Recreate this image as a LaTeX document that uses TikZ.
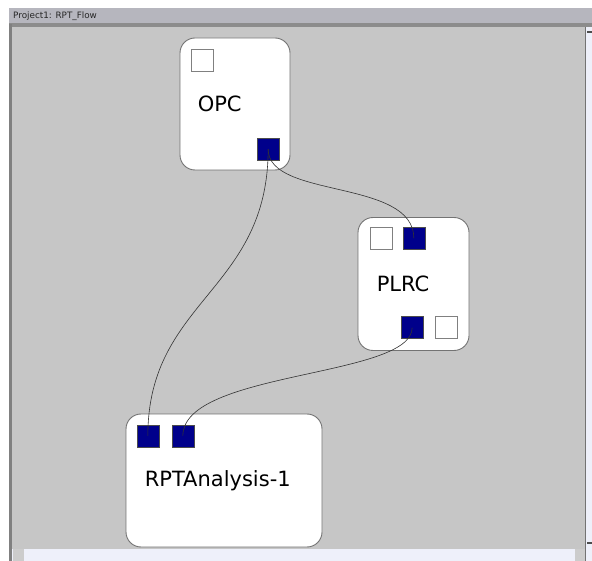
\documentclass[tikz,border=0pt]{standalone}
\usepackage{fontspec}
\setmainfont{DejaVu Sans}
\usetikzlibrary{positioning}
\definecolor{canvasgray}{HTML}{C6C6C6}
\definecolor{titlegray}{HTML}{B6B6BE}
\definecolor{barlight}{HTML}{EEF0FA}
\definecolor{portblue}{HTML}{00008B}
\tikzset{
compbox/.style={
  draw=black!55, fill=white, line width=0.9pt,
  rounded corners=15pt, inner sep=0pt
  },
portfull/.style={
  draw=black!70, fill=portblue, line width=0.6pt,
  minimum size=22pt, inner sep=0pt
  },
portempty/.style={
  draw=black!50, fill=white, line width=0.6pt,
  minimum size=22pt, inner sep=0pt
  },
boxtext/.style={
  inner sep=0pt, anchor=west, font=\fontsize{21}{24}\selectfont
  },
wire/.style={
  draw=black!80, line width=0.6pt
  }
}

\begin{document}
\begin{tikzpicture}[x=1pt,y=-1pt]
\useasboundingbox (0,0) rectangle (592,561);
% window frame
\fill[white] (0,0) rectangle (592,561);
\fill[titlegray] (9,8) rectangle (592,24);
\fill[black!45] (9,23) rectangle (592,27);
\fill[canvasgray] (12,27) rectangle (585,549);
\fill[black!50] (9,24) rectangle (12,561);
\fill[barlight] (12,549) rectangle (585,561);
\fill[black!20] (13,549) rectangle (24,561);
\fill[black!20] (575,549) rectangle (585,561);
\fill[barlight] (585,27) rectangle (592,561);
\fill[black!55] (585,27) rectangle (586,561);
\fill[black!70] (587,31) rectangle (592,33);
\fill[black!70] (587,542) rectangle (592,544);
\node[anchor=west, inner sep=0pt, font=\fontsize{8.8}{10}\selectfont, text=black!85]
  (title) at (13,16) {Project1: RPT\_Flow};

% components
\node[compbox, minimum width=110pt, minimum height=132pt] (opc) at (235,104) {};
\node[compbox, minimum width=111pt, minimum height=133pt] (plrc) at (413.5,284) {};
\node[compbox, minimum width=196pt, minimum height=133pt] (rpt) at (224,480.5) {};

\node[boxtext, right=18pt of opc.west] (opctxt) {OPC};
\node[boxtext, right=19pt of plrc.west] (plrctxt) {PLRC};
\node[boxtext, right=19pt of rpt.west] (rpttxt) {RPTAnalysis-1};

% ports
\node[portempty, below right=11pt and 11pt of opc.north west] (opcin) {};
\node[portfull, above left=10pt and 11pt of opc.south east] (opcout) {};

\node[portempty, below right=10pt and 12pt of plrc.north west] (plrcinA) {};
\node[portfull, below right=10pt and 45pt of plrc.north west] (plrcin) {};
\node[portfull, above left=12pt and 46pt of plrc.south east] (plrcout) {};
\node[portempty, above left=12pt and 12pt of plrc.south east] (plrcoutB) {};

\node[portfull, below right=11pt and 11pt of rpt.north west] (rptinA) {};
\node[portfull, below right=11pt and 46pt of rpt.north west] (rptinB) {};

% connections
\draw[wire] (opcout.center) .. controls +(0,142) and +(0,-136) .. (rptinA.center);
\draw[wire] (opcout.center) .. controls +(0,50) and +(0,-60) .. (plrcin.center);
\draw[wire] (plrcout.center) .. controls +(0,50) and +(0,-65) .. (rptinB.center);

\end{tikzpicture}
\end{document}
